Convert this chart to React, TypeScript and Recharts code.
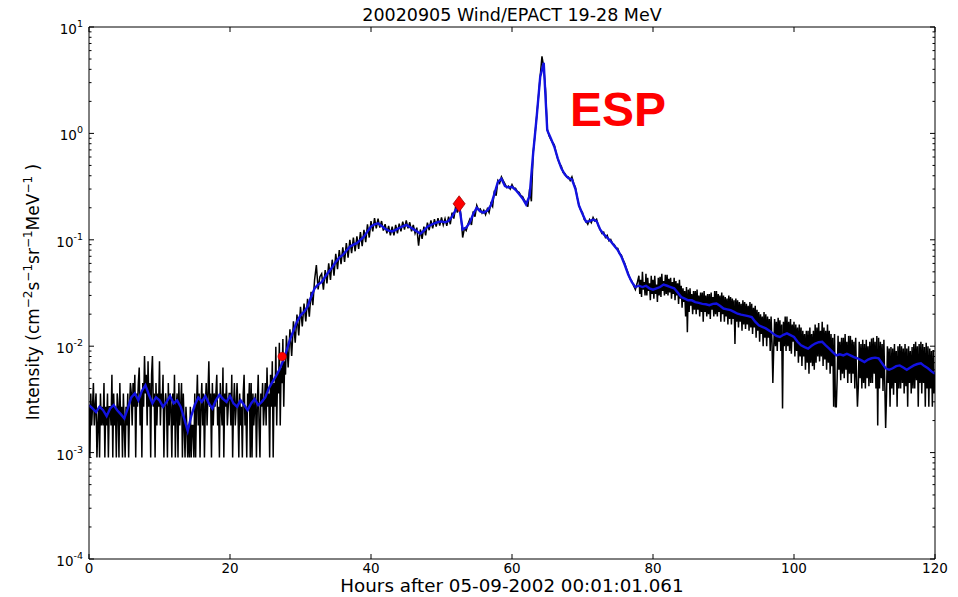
import React from "react";
import { ComposedChart, Line, Scatter, XAxis, YAxis } from "recharts";

const FONT = "'DejaVu Sans', 'Bitstream Vera Sans', sans-serif";

const hourTicks = [0, 20, 40, 60, 80, 100, 120];
const decades = [1e-4, 1e-3, 1e-2, 1e-1, 1, 10];
const minorSteps = [2, 3, 4, 5, 6, 7, 8, 9];

// raw EPACT intensity, pre-event background: 7.5 min samples from hour 0
const earlyStart = 0;
const earlyStep = 0.125;
const rawEarly = [
  .0027,.0009,.0036,.0018,.0027,.0045,.0018,.0027, .0036,.0009,.0018,.0027,.0009,.0036,.0018,.0027,
  .0018,.0045,.0009,.0027,.0018,.0036,.0009,.0027, .0027,.0018,.0054,.0009,.0036,.0018,.0027,.0009,
  .0036,.0027,.0009,.0045,.0018,.0027,.0009,.0036, .0018,.0009,.0027,.0018,.0036,.0009,.0027,.0045,
  .0036,.0018,.0045,.0027,.0054,.0009,.0036,.0027, .0045,.0063,.0018,.0036,.0009,.0045,.0027,.0081,
  .0036,.0054,.0018,.0072,.0027,.0045,.0009,.0054, .0081,.0027,.0036,.0009,.0045,.0018,.0036,.0027,
  .0072,.0018,.0036,.0027,.0054,.0009,.0027,.0036, .0027,.0009,.0045,.0018,.0036,.0027,.0009,.0036,
  .0018,.0054,.0009,.0027,.0036,.0009,.0045,.0018, .0027,.0045,.0009,.0036,.0018,.0009,.0027,.0018,
  .0009,.0018,.0009,.0027,.0009,.0018,.0018,.0009, .0036,.0009,.0027,.0054,.0018,.0036,.0009,.0027,
  .0045,.0018,.0036,.0009,.0027,.0045,.0018,.0036, .0072,.0027,.0036,.0009,.0045,.0018,.0036,.0027,
  .0036,.0054,.0018,.0027,.0009,.0045,.0027,.0018, .0063,.0009,.0036,.0027,.0045,.0018,.0027,.0036,
  .0036,.0018,.0054,.0009,.0027,.0045,.0018,.0027, .0045,.0027,.0009,.0036,.0018,.0027,.0009,.0036,
  .0054,.0018,.0027,.0009,.0036,.0027,.0045,.0009, .0045,.0009,.0036,.0018,.0027,.0036,.0009,.0027,
  .0054,.0018,.0009,.0036,.0027,.0045,.0018,.0027, .0045,.0018,.0063,.0027,.0036,.0009,.0054,.0027,
  .0072,.0009,.0045,.0027,.0099,.0018,.0054,.0036, .0108,.0018,.0063,.0045,.0117,.0027,.0072,.0054,
];

// rise, shock and decay: 15 min samples from hour 28
const midStart = 28;
const midStep = 0.25;
const rawMid = [
  .0126,.0063,.0144,.0081, .0171,.0108,.0198,.0126,
  .0234,.0153,.0252,.0171, .0279,.0189,.0324,.0243, .0423,.0580,.0342,.0450, .0480,.0340,.0520,.0390, .0600,.0420,.0650,.0460,
  .0740,.0530,.0800,.0590, .0850,.0620,.0930,.0680, .1000,.0750,.1050,.0780, .1080,.0820,.1180,.0870, .1240,.0950,.1400,.1050,
  .1500,.1200,.1600,.1280, .1580,.1300,.1500,.1220, .1400,.1150,.1350,.1100, .1330,.1100,.1380,.1150, .1420,.1200,.1480,.1250,
  .1520,.1280,.1460,.1200, .1380,.1150,.1300,.0880, .1250,.1020,.1330,.1100, .1450,.1230,.1520,.1280, .1560,.1330,.1600,.1360,
  .1620,.1380,.1580,.1350, .1650,.1400,.1800,.1580, .2050,.1800,.2250,.1700, .1050,.1280,.1220,.1400, .1550,.1380,.1850,.1650,
  .2100,.1900,.1950,.1780, .1900,.1720,.1950,.1800, .2200,.2050,.2900,.2600, .3600,.3400,.3900,.3600, .3350,.3100,.3200,.3000,
  .3300,.3050,.3050,.2850, .2800,.2600,.2550,.2350, .2250,.2050,.3000,.2300, .6600,.9500,1.450,2.200, 3.450,5.300,4.200,2.600,
  1.100,.9500,.8800,.8200, .7800,.6600,.5700,.5200, .4900,.4300,.4200,.3900, .3900,.3600,.3900,.3400, .3100,.2500,.2100,.1900,
  .1800,.1550,.1500,.1400, .1550,.1450,.1620,.1500, .1560,.1350,.1250,.1150, .1180,.1050,.1100,.0980, .1010,.0920,.0900,.0840,
  .0830,.0740,.0720,.0650, .0600,.0530,.0480,.0430, .0410,.0370,.0340,.0390,
];

// late decay: 7.5 min samples from hour 78
const lateStart = 78;
const lateStep = 0.125;
const rawLate = [
  .046,.031,.042,.029,.050,.034,.040,.030, .048,.030,.044,.033,.039,.027,.046,.031,
  .042,.028,.046,.031,.038,.026,.044,.030, .045,.029,.048,.033,.041,.030,.047,.031,
  .047,.030,.043,.032,.044,.028,.040,.031, .044,.027,.041,.030,.039,.025,.042,.028,
  .037,.023,.035,.026,.033,.019,.036,.0135, .034,.021,.035,.024,.031,.020,.033,.022,
  .033,.020,.034,.022,.030,.019,.032,.021, .032,.017,.033,.021,.030,.019,.031,.020,
  .031,.018,.032,.022,.029,.019,.033,.020, .033,.019,.031,.021,.030,.017,.032,.020,
  .030,.017,.029,.019,.028,.016,.030,.018, .029,.016,.028,.018,.027,.0105,.028,.017,
  .027,.015,.026,.017,.025,.014,.027,.016, .026,.0145,.025,.016,.024,.014,.026,.015,
  .025,.013,.023,.015,.024,.012,.022,.014, .021,.011,.020,.013,.019,.010,.021,.012,
  .020,.010,.019,.012,.018,.009,.019,.011, .0045,.0095,.018,.010,.017,.009,.0185,.011,
  .0175,.009,.016,.0026,.017,.010,.019,.009, .019,.010,.017,.009,.018,.0085,.016,.011,
  .017,.008,.016,.009,.015,.007,.016,.008, .015,.0065,.014,.008,.013,.006,.014,.007,
  .014,.0055,.015,.007,.013,.0065,.014,.006, .016,.007,.015,.008,.0165,.0072,.014,.008,
  .017,.0065,.015,.0075,.014,.006,.016,.007, .014,.0055,.013,.0065,.012,.0027,.013,.0027,
  .0027,.005,.0125,.006,.011,.0048,.012,.0055, .012,.005,.013,.006,.011,.0045,.0125,.0055,
  .0125,.0045,.0115,.0055,.011,.004,.012,.005, .0027,.0042,.011,.005,.0105,.004,.0115,.0045,
  .0105,.004,.0115,.005,.010,.0042,.011,.0045, .0118,.0045,.012,.0055,.011,.004,.0125,.0018,
  .012,.004,.011,.005,.0105,.0038,.0115,.0045, .0017,.0035,.010,.0045,.0095,.0027,.0098,.004,
  .0095,.0035,.0105,.0045,.009,.0027,.010,.004, .0105,.004,.010,.0045,.0095,.0036,.0105,.0042,
  .0095,.0027,.010,.0045,.009,.0036,.0098,.004, .0105,.004,.011,.0048,.010,.0027,.0105,.0045,
  .011,.0036,.0105,.0045,.0098,.0027,.0108,.004, .010,.0027,.0095,.004,.009,.0027,.0092,.0036,
  .0055,
];

// running average, one value every 30 minutes
const smoothStep = 0.5;
const smoothFlux = [
  .0028,.0026,.0024,.0027,.0025,.0022,.0026,.0028,.0025,.0023,
  .0021,.0026,.0033,.0036,.0031,.0038,.0043,.0035,.0029,.0033,
  .0031,.0027,.0030,.0034,.0029,.0031,.0027,.0021,.0016,.0022,
  .0028,.0033,.0030,.0034,.0029,.0026,.0031,.0035,.0032,.0030,
  .0034,.0029,.0027,.0031,.0028,.0025,.0029,.0032,.0028,.0030,
  .0033,.0040,.0046,.0052,.0060,.0072,.0090,.0115,.0140,.0170,
  .0195,.0210,.0235,.0290,.0350,.0380,.0400,.0450,.0500,.0550,
  .062,.068,.072,.079,.086,.090,.093,.100,.107,.120,
  .133,.140,.143,.135,.127,.122,.120,.124,.129,.134,
  .138,.132,.126,.120,.114,.122,.133,.138,.143,.147,
  .149,.146,.150,.165,.190,.210,.125,.130,.145,.175,
  .200,.185,.180,.188,.210,.270,.350,.375,.320,.310,
  .315,.295,.270,.245,.215,.260,.650,1.43,3.40,4.60,
  1.07,.90,.75,.58,.47,.41,.38,.37,.30,.21,
  .175,.148,.150,.155,.150,.125,.113,.105,.097,.088,
  .080,.070,.058,.047,.040,.036,.037,.036,.037,.035,
  .034,.035,.036,.038,.037,.036,.035,.032,.029,.028,
  .027,.027,.026,.0255,.025,.0248,.0243,.025,.0252,.024,
  .0226,.0222,.0218,.021,.0202,.0198,.0195,.0192,.0188,.017,
  .0157,.0152,.0147,.014,.0132,.0125,.0122,.0128,.0132,.0127,
  .0122,.011,.0102,.0098,.0095,.0101,.0106,.0109,.011,.0102,
  .0095,.0088,.0082,.0084,.0082,.0085,.0082,.0079,.0077,.0074,
  .0071,.0075,.0077,.0078,.0077,.0069,.0062,.0060,.0062,.0065,
  .0066,.0063,.0060,.0063,.0066,.0068,.0069,.0065,.0062,.0058,
  .0055,
];

// onset (circle) and peak-before-shock (diamond) picks
const onsetHour = 27.4;
const onsetFlux = 0.008;
const peakHour = 52.5;
const peakFlux = 0.218;

const toSeries = (vals: number[], start: number, step: number) =>
  vals.map((v, i) => ({ t: start + i * step, v }));

const rawData = [
  ...toSeries(rawEarly, earlyStart, earlyStep),
  ...toSeries(rawMid, midStart, midStep),
  ...toSeries(rawLate, lateStart, lateStep),
];
const smoothData = toSeries(smoothFlux, 0, smoothStep);
const onsetData = [{ t: onsetHour, v: onsetFlux }];
const peakData = [{ t: peakHour, v: peakFlux }];

const logTicks = decades.flatMap((d, i) =>
  i < decades.length - 1 ? [d, ...minorSteps.map((m) => d * m)] : [d]
);

const isDecade = (v: number) => Math.abs(Math.log10(v) - Math.round(Math.log10(v))) < 1e-6;

function LeftTick({ x, y, payload }: any) {
  const v = payload.value;
  const major = isDecade(v);
  return (
    <g>
      <line x1={x} x2={x + (major ? 5 : 2.5)} y1={y} y2={y} stroke="#000" strokeWidth={1} />
      {major && (
        <text x={x - 6} y={y + 7} textAnchor="end" fontFamily={FONT} fontSize={13.5} fill="#000">
          10<tspan dy={-7} fontSize={9.5}>{Math.round(Math.log10(v))}</tspan>
        </text>
      )}
    </g>
  );
}

function RightTick({ x, y, payload }: any) {
  const major = isDecade(payload.value);
  return <line x1={x} x2={x - (major ? 5 : 2.5)} y1={y} y2={y} stroke="#000" strokeWidth={1} />;
}

function BottomTick({ x, y, payload }: any) {
  return (
    <g>
      <line x1={x} x2={x} y1={y} y2={y - 5} stroke="#000" strokeWidth={1} />
      <text x={x} y={y + 14} textAnchor="middle" fontFamily={FONT} fontSize={13.5} fill="#000">
        {payload.value}
      </text>
    </g>
  );
}

function TopTick({ x, y }: any) {
  return <line x1={x} x2={x} y1={y} y2={y + 5} stroke="#000" strokeWidth={1} />;
}

const Diamond = (p: any) => (
  <polygon
    points={`${p.cx},${p.cy - 8} ${p.cx + 6},${p.cy} ${p.cx},${p.cy + 8} ${p.cx - 6},${p.cy}`}
    fill="#ff0000"
    stroke="#a00000"
    strokeWidth={0.8}
  />
);

const Dot = (p: any) => <circle cx={p.cx} cy={p.cy} r={4.2} fill="#ff0000" stroke="#c00000" strokeWidth={0.6} />;

export default function App() {
  return (
    <div style={{ position: "fixed", left: 0, top: 0, width: 958, height: 597, background: "#fff" }}>
      <ComposedChart width={958} height={597} margin={{ top: 26, right: 22, bottom: 8, left: 29 }}>
        <XAxis
          dataKey="t"
          type="number"
          domain={[0, 120]}
          ticks={hourTicks}
          interval={0}
          allowDataOverflow
          height={30}
          tickSize={0}
          tickMargin={0}
          tickLine={false}
          axisLine={{ stroke: "#000", strokeWidth: 1 }}
          tick={<BottomTick />}
        />
        <XAxis
          xAxisId="top"
          orientation="top"
          dataKey="t"
          type="number"
          domain={[0, 120]}
          ticks={hourTicks}
          interval={0}
          allowDataOverflow
          height={1}
          tickSize={0}
          tickMargin={0}
          tickLine={false}
          axisLine={{ stroke: "#000", strokeWidth: 1 }}
          tick={<TopTick />}
        />
        <YAxis
          type="number"
          scale="log"
          domain={[1e-4, 10]}
          ticks={logTicks}
          interval={0}
          allowDataOverflow
          width={60}
          tickSize={0}
          tickMargin={0}
          tickLine={false}
          axisLine={{ stroke: "#000", strokeWidth: 1 }}
          tick={<LeftTick />}
        />
        <YAxis
          yAxisId="right"
          orientation="right"
          type="number"
          scale="log"
          domain={[1e-4, 10]}
          ticks={logTicks}
          interval={0}
          allowDataOverflow
          width={1}
          tickSize={0}
          tickMargin={0}
          tickLine={false}
          axisLine={{ stroke: "#000", strokeWidth: 1 }}
          tick={<RightTick />}
        />
        {/* invisible copy of the average bound to the top/right axes so the frame is drawn */}
        <Line
          xAxisId="top"
          yAxisId="right"
          data={smoothData}
          dataKey="v"
          stroke="none"
          dot={false}
          activeDot={false}
          isAnimationActive={false}
        />
        <Line
          data={rawData}
          dataKey="v"
          type="linear"
          stroke="#000"
          strokeWidth={1.5}
          dot={false}
          activeDot={false}
          isAnimationActive={false}
        />
        <Line
          data={smoothData}
          dataKey="v"
          type="linear"
          stroke="#1212e0"
          strokeWidth={2.4}
          dot={false}
          activeDot={false}
          isAnimationActive={false}
        />
        <Scatter data={onsetData} dataKey="v" shape={Dot} isAnimationActive={false} />
        <Scatter data={peakData} dataKey="v" shape={Diamond} isAnimationActive={false} />
      </ComposedChart>
      <svg width={958} height={597} style={{ position: "absolute", left: 0, top: 0, pointerEvents: "none" }}>
        <text x={512} y={21} textAnchor="middle" fontFamily={FONT} fontSize={17.5} fill="#000">
          20020905 Wind/EPACT 19-28 MeV
        </text>
        <text x={512} y={592} textAnchor="middle" fontFamily={FONT} fontSize={18.3} fill="#000">
          Hours after 05-09-2002 00:01:01.061
        </text>
        <text
          transform="translate(39,292) rotate(-90)"
          textAnchor="middle"
          fontFamily={FONT}
          fontSize={17}
          fill="#000"
        >
          Intensity (cm<tspan dy={-7} fontSize={12}>−2</tspan>
          <tspan dy={7}>s</tspan>
          <tspan dy={-7} fontSize={12}>−1</tspan>
          <tspan dy={7}>sr</tspan>
          <tspan dy={-7} fontSize={12}>−1</tspan>
          <tspan dy={7}>MeV</tspan>
          <tspan dy={-7} fontSize={12}>−1</tspan>
          <tspan dy={7}> )</tspan>
        </text>
        <text x={570} y={126} fontFamily="'Liberation Sans', Arial, sans-serif" fontWeight="bold" fontSize={48} fill="#ff0000">
          ESP
        </text>
      </svg>
    </div>
  );
}
